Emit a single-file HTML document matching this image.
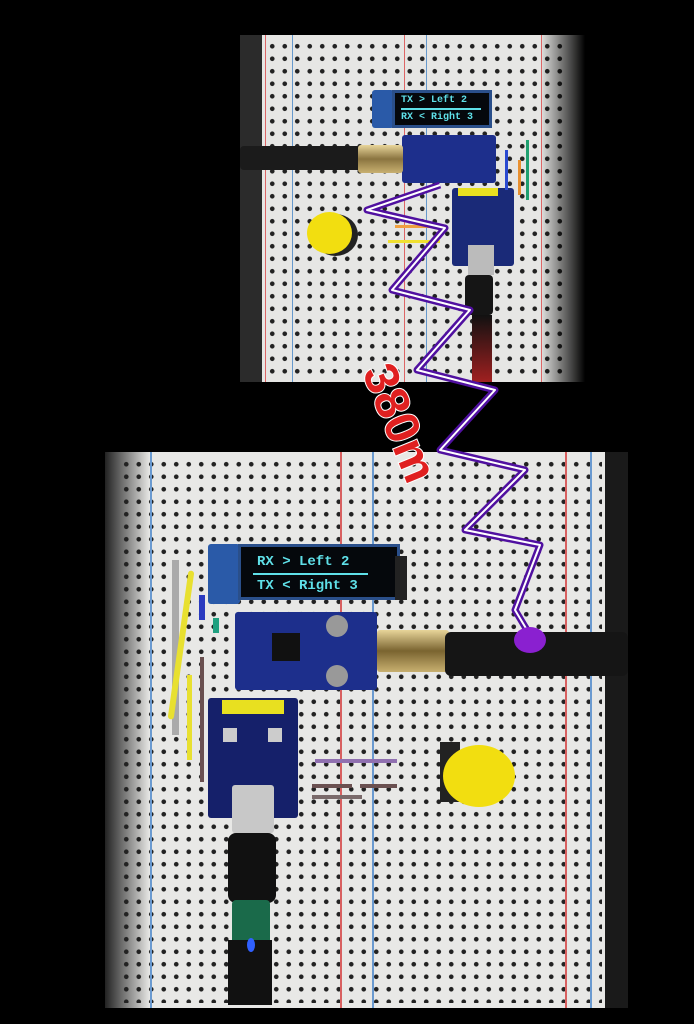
<!DOCTYPE html>
<html><head><meta charset="utf-8"><style>
body{margin:0;background:#000;width:694px;height:1024px;position:relative;overflow:hidden;font-family:"Liberation Mono",monospace}
.a{position:absolute}
.holes{background-image:radial-gradient(circle,#222 2px,transparent 2.6px);background-size:12.5px 12.5px}
.oled{background:#05080c;border:3px solid #2a4f8a;color:#5fe0e8;font-weight:bold}
.pcb{background:#1d2f8c;border-radius:3px}
</style></head><body>
<!-- TOP BOARD -->
<div class="a" style="left:240px;top:35px;width:345px;height:347px;background:#e6e6e4"></div>
<div class="a" style="left:240px;top:35px;width:22px;height:347px;background:#2b2b2b"></div>
<div class="a holes" style="left:266px;top:40px;width:300px;height:338px"></div>
<div class="a" style="left:540px;top:35px;width:45px;height:347px;background:linear-gradient(90deg,rgba(0,0,0,0),#000)"></div>
<div class="a" style="left:265px;top:35px;width:1px;height:347px;background:#d66"></div>
<div class="a" style="left:292px;top:35px;width:1px;height:347px;background:#69c"></div>
<div class="a" style="left:404px;top:35px;width:1px;height:347px;background:#d66"></div>
<div class="a" style="left:426px;top:35px;width:1px;height:347px;background:#69c"></div>
<div class="a" style="left:541px;top:35px;width:1px;height:347px;background:#d66"></div>
<!-- top modules -->
<div class="a pcb" style="left:372px;top:90px;width:22px;height:38px;background:#2a5aa8"></div>
<div class="a oled" style="left:392px;top:90px;width:100px;height:38px;font-size:10px;line-height:15px;padding-left:6px;box-sizing:border-box">TX &gt; Left 2<div style="border-top:2px solid #5fe0e8;width:80px"></div>RX &lt; Right 3</div>
<div class="a pcb" style="left:402px;top:135px;width:94px;height:48px"></div>
<div class="a" style="left:240px;top:146px;width:122px;height:24px;background:#1b1b1b;border-radius:4px"></div>
<div class="a" style="left:358px;top:145px;width:45px;height:28px;background:linear-gradient(#e8d59a,#8a7440,#c8b070);border-radius:3px"></div>
<div class="a" style="left:307px;top:212px;width:45px;height:42px;background:#f2de10;border-radius:50%;box-shadow:6px 2px 0 #222"></div>
<div class="a pcb" style="left:452px;top:188px;width:62px;height:78px;background:#1a2a78"></div>
<div class="a" style="left:458px;top:188px;width:40px;height:8px;background:#e8e020"></div>
<div class="a" style="left:468px;top:245px;width:26px;height:30px;background:#bbb"></div>
<div class="a" style="left:465px;top:275px;width:28px;height:40px;background:#151515;border-radius:4px"></div>
<div class="a" style="left:472px;top:315px;width:20px;height:67px;background:linear-gradient(#111,#a02020)"></div>
<div class="a" style="left:505px;top:150px;width:3px;height:40px;background:#2a4ad0"></div>
<div class="a" style="left:526px;top:140px;width:3px;height:60px;background:#20a070"></div>
<div class="a" style="left:518px;top:160px;width:3px;height:35px;background:#e89030"></div>
<div class="a" style="left:395px;top:225px;width:40px;height:3px;background:#f0a040"></div>
<div class="a" style="left:388px;top:240px;width:52px;height:3px;background:#f0e030"></div>
<!-- BOTTOM BOARD -->
<div class="a" style="left:105px;top:452px;width:523px;height:556px;background:#e8e8e6"></div>
<div class="a holes" style="left:120px;top:458px;width:482px;height:545px"></div>
<div class="a" style="left:105px;top:452px;width:45px;height:556px;background:linear-gradient(90deg,#222,rgba(230,230,228,0))"></div>
<div class="a" style="left:605px;top:452px;width:23px;height:556px;background:#1a1a1a"></div>
<div class="a" style="left:150px;top:452px;width:2px;height:556px;background:#6a9ad0"></div>
<div class="a" style="left:340px;top:452px;width:2px;height:556px;background:#d86060"></div>
<div class="a" style="left:372px;top:452px;width:2px;height:556px;background:#6a9ad0"></div>
<div class="a" style="left:565px;top:452px;width:2px;height:556px;background:#d86060"></div>
<div class="a" style="left:590px;top:452px;width:2px;height:556px;background:#6a9ad0"></div>
<!-- bottom modules -->
<div class="a pcb" style="left:208px;top:544px;width:32px;height:60px;background:#2a5aa8"></div>
<div class="a oled" style="left:238px;top:544px;width:162px;height:56px;font-size:14px;line-height:22px;padding:4px 0 0 16px;box-sizing:border-box">RX &gt; Left 2<div style="border-top:2px solid #5fe0e8;width:115px;margin-left:-4px"></div>TX &lt; Right 3</div>
<div class="a" style="left:395px;top:556px;width:12px;height:44px;background:#222"></div>
<div class="a pcb" style="left:235px;top:612px;width:142px;height:78px"></div>
<div class="a" style="left:272px;top:633px;width:28px;height:28px;background:#111"></div>
<div class="a" style="left:326px;top:615px;width:22px;height:22px;border-radius:50%;background:#999"></div>
<div class="a" style="left:326px;top:665px;width:22px;height:22px;border-radius:50%;background:#999"></div>
<div class="a" style="left:377px;top:630px;width:72px;height:42px;background:linear-gradient(#e8d59a,#7a6430,#c8b070);border-radius:3px"></div>
<div class="a" style="left:445px;top:632px;width:183px;height:44px;background:#151515;border-radius:6px"></div>
<div class="a pcb" style="left:208px;top:698px;width:90px;height:120px;background:#15206a"></div>
<div class="a" style="left:222px;top:700px;width:62px;height:14px;background:#e8e020"></div>
<div class="a" style="left:223px;top:728px;width:14px;height:14px;background:#ccc"></div>
<div class="a" style="left:268px;top:728px;width:14px;height:14px;background:#ccc"></div>
<div class="a" style="left:232px;top:785px;width:42px;height:48px;background:#c8c8c8;border-radius:3px"></div>
<div class="a" style="left:228px;top:833px;width:48px;height:70px;background:#111;border-radius:8px"></div>
<div class="a" style="left:232px;top:900px;width:38px;height:45px;background:#1a6a4a;border-radius:4px"></div>
<div class="a" style="left:228px;top:940px;width:44px;height:65px;background:#111"></div>
<div class="a" style="left:247px;top:938px;width:8px;height:14px;border-radius:50%;background:#3060ff"></div>
<div class="a" style="left:440px;top:742px;width:20px;height:60px;background:#222"></div>
<div class="a" style="left:443px;top:745px;width:72px;height:62px;border-radius:50%;background:#f2de10"></div>
<div class="a" style="left:172px;top:560px;width:7px;height:175px;background:#aaa"></div>
<div class="a" style="left:178px;top:570px;width:6px;height:150px;background:#e8e030;border-radius:3px;transform:rotate(8deg)"></div>
<div class="a" style="left:187px;top:675px;width:5px;height:85px;background:#e8e030"></div>
<div class="a" style="left:200px;top:657px;width:4px;height:125px;background:#6a5050"></div>
<div class="a" style="left:199px;top:595px;width:6px;height:25px;background:#2a3ac0"></div>
<div class="a" style="left:213px;top:618px;width:6px;height:15px;background:#20a080"></div>
<div class="a" style="left:315px;top:759px;width:82px;height:4px;background:#9070b0"></div>
<div class="a" style="left:312px;top:784px;width:40px;height:4px;background:#6a5050"></div>
<div class="a" style="left:360px;top:784px;width:37px;height:4px;background:#6a5050"></div>
<div class="a" style="left:312px;top:795px;width:50px;height:4px;background:#7a6a6a"></div>
<!-- zigzag -->
<svg class="a" style="left:0;top:0" width="694" height="1024">
<path d="M440 185 L367 210 L445 228 L392 290 L470 310 L417 370 L495 390 L440 450 L525 470 L465 530 L540 545 L515 610 L530 635" fill="none" stroke="#5010a0" stroke-width="7" stroke-linejoin="round"/>
<path d="M440 185 L367 210 L445 228 L392 290 L470 310 L417 370 L495 390 L440 450 L525 470 L465 530 L540 545 L515 610 L530 635" fill="none" stroke="#fff" stroke-width="2" stroke-linejoin="round"/>
<ellipse cx="530" cy="640" rx="16" ry="13" fill="#8a20d0"/>
<text x="0" y="0" transform="translate(362,372) rotate(68)" font-family="Liberation Sans,sans-serif" font-size="48" font-weight="bold" fill="#e02020" stroke="#fff" stroke-width="2" paint-order="stroke">380m</text>
</svg>
</body></html>
